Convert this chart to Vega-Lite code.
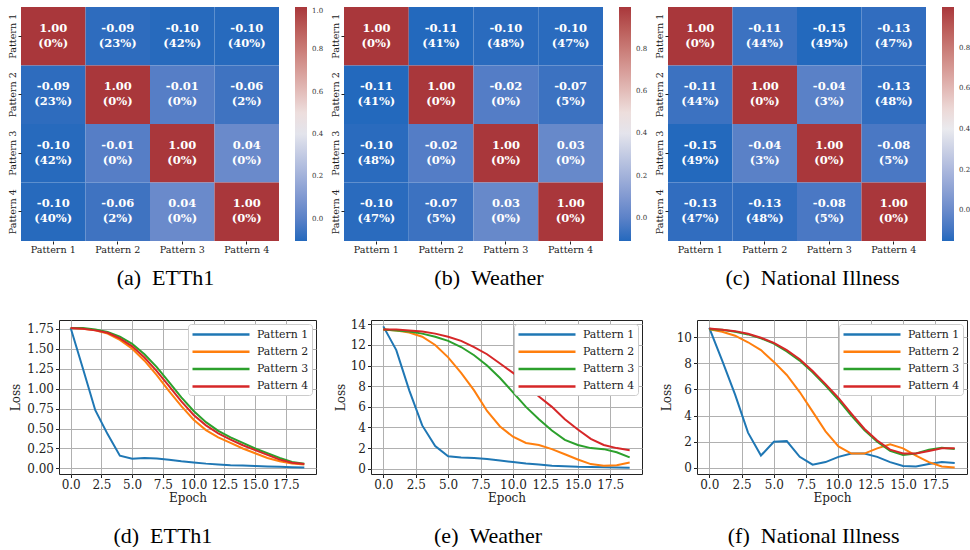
{
  "$schema": "https://vega.github.io/schema/vega-lite/v6.json",
  "padding": {"left": 6, "top": 7, "right": 0, "bottom": 0},
  "background": "white",
  "bounds": "flush",
  "spacing": 313,
  "resolve": {"scale": {"color": "independent"}, "legend": {"color": "independent"}},
  "config": {
    "view": {"stroke": null},
    "font": "DejaVu Serif"
  },
  "datasets": {
    "hm": [
      {"ds":"ETTh1","r":"Pattern 1","c":"Pattern 1","v":1.00,"t":"1.00","p":"(0%)"},
      {"ds":"ETTh1","r":"Pattern 1","c":"Pattern 2","v":-0.09,"t":"-0.09","p":"(23%)"},
      {"ds":"ETTh1","r":"Pattern 1","c":"Pattern 3","v":-0.10,"t":"-0.10","p":"(42%)"},
      {"ds":"ETTh1","r":"Pattern 1","c":"Pattern 4","v":-0.10,"t":"-0.10","p":"(40%)"},
      {"ds":"ETTh1","r":"Pattern 2","c":"Pattern 1","v":-0.09,"t":"-0.09","p":"(23%)"},
      {"ds":"ETTh1","r":"Pattern 2","c":"Pattern 2","v":1.00,"t":"1.00","p":"(0%)"},
      {"ds":"ETTh1","r":"Pattern 2","c":"Pattern 3","v":-0.01,"t":"-0.01","p":"(0%)"},
      {"ds":"ETTh1","r":"Pattern 2","c":"Pattern 4","v":-0.06,"t":"-0.06","p":"(2%)"},
      {"ds":"ETTh1","r":"Pattern 3","c":"Pattern 1","v":-0.10,"t":"-0.10","p":"(42%)"},
      {"ds":"ETTh1","r":"Pattern 3","c":"Pattern 2","v":-0.01,"t":"-0.01","p":"(0%)"},
      {"ds":"ETTh1","r":"Pattern 3","c":"Pattern 3","v":1.00,"t":"1.00","p":"(0%)"},
      {"ds":"ETTh1","r":"Pattern 3","c":"Pattern 4","v":0.04,"t":"0.04","p":"(0%)"},
      {"ds":"ETTh1","r":"Pattern 4","c":"Pattern 1","v":-0.10,"t":"-0.10","p":"(40%)"},
      {"ds":"ETTh1","r":"Pattern 4","c":"Pattern 2","v":-0.06,"t":"-0.06","p":"(2%)"},
      {"ds":"ETTh1","r":"Pattern 4","c":"Pattern 3","v":0.04,"t":"0.04","p":"(0%)"},
      {"ds":"ETTh1","r":"Pattern 4","c":"Pattern 4","v":1.00,"t":"1.00","p":"(0%)"},
      {"ds":"Weather","r":"Pattern 1","c":"Pattern 1","v":1.00,"t":"1.00","p":"(0%)"},
      {"ds":"Weather","r":"Pattern 1","c":"Pattern 2","v":-0.11,"t":"-0.11","p":"(41%)"},
      {"ds":"Weather","r":"Pattern 1","c":"Pattern 3","v":-0.10,"t":"-0.10","p":"(48%)"},
      {"ds":"Weather","r":"Pattern 1","c":"Pattern 4","v":-0.10,"t":"-0.10","p":"(47%)"},
      {"ds":"Weather","r":"Pattern 2","c":"Pattern 1","v":-0.11,"t":"-0.11","p":"(41%)"},
      {"ds":"Weather","r":"Pattern 2","c":"Pattern 2","v":1.00,"t":"1.00","p":"(0%)"},
      {"ds":"Weather","r":"Pattern 2","c":"Pattern 3","v":-0.02,"t":"-0.02","p":"(0%)"},
      {"ds":"Weather","r":"Pattern 2","c":"Pattern 4","v":-0.07,"t":"-0.07","p":"(5%)"},
      {"ds":"Weather","r":"Pattern 3","c":"Pattern 1","v":-0.10,"t":"-0.10","p":"(48%)"},
      {"ds":"Weather","r":"Pattern 3","c":"Pattern 2","v":-0.02,"t":"-0.02","p":"(0%)"},
      {"ds":"Weather","r":"Pattern 3","c":"Pattern 3","v":1.00,"t":"1.00","p":"(0%)"},
      {"ds":"Weather","r":"Pattern 3","c":"Pattern 4","v":0.03,"t":"0.03","p":"(0%)"},
      {"ds":"Weather","r":"Pattern 4","c":"Pattern 1","v":-0.10,"t":"-0.10","p":"(47%)"},
      {"ds":"Weather","r":"Pattern 4","c":"Pattern 2","v":-0.07,"t":"-0.07","p":"(5%)"},
      {"ds":"Weather","r":"Pattern 4","c":"Pattern 3","v":0.03,"t":"0.03","p":"(0%)"},
      {"ds":"Weather","r":"Pattern 4","c":"Pattern 4","v":1.00,"t":"1.00","p":"(0%)"},
      {"ds":"Illness","r":"Pattern 1","c":"Pattern 1","v":1.00,"t":"1.00","p":"(0%)"},
      {"ds":"Illness","r":"Pattern 1","c":"Pattern 2","v":-0.11,"t":"-0.11","p":"(44%)"},
      {"ds":"Illness","r":"Pattern 1","c":"Pattern 3","v":-0.15,"t":"-0.15","p":"(49%)"},
      {"ds":"Illness","r":"Pattern 1","c":"Pattern 4","v":-0.13,"t":"-0.13","p":"(47%)"},
      {"ds":"Illness","r":"Pattern 2","c":"Pattern 1","v":-0.11,"t":"-0.11","p":"(44%)"},
      {"ds":"Illness","r":"Pattern 2","c":"Pattern 2","v":1.00,"t":"1.00","p":"(0%)"},
      {"ds":"Illness","r":"Pattern 2","c":"Pattern 3","v":-0.04,"t":"-0.04","p":"(3%)"},
      {"ds":"Illness","r":"Pattern 2","c":"Pattern 4","v":-0.13,"t":"-0.13","p":"(48%)"},
      {"ds":"Illness","r":"Pattern 3","c":"Pattern 1","v":-0.15,"t":"-0.15","p":"(49%)"},
      {"ds":"Illness","r":"Pattern 3","c":"Pattern 2","v":-0.04,"t":"-0.04","p":"(3%)"},
      {"ds":"Illness","r":"Pattern 3","c":"Pattern 3","v":1.00,"t":"1.00","p":"(0%)"},
      {"ds":"Illness","r":"Pattern 3","c":"Pattern 4","v":-0.08,"t":"-0.08","p":"(5%)"},
      {"ds":"Illness","r":"Pattern 4","c":"Pattern 1","v":-0.13,"t":"-0.13","p":"(47%)"},
      {"ds":"Illness","r":"Pattern 4","c":"Pattern 2","v":-0.13,"t":"-0.13","p":"(48%)"},
      {"ds":"Illness","r":"Pattern 4","c":"Pattern 3","v":-0.08,"t":"-0.08","p":"(5%)"},
      {"ds":"Illness","r":"Pattern 4","c":"Pattern 4","v":1.00,"t":"1.00","p":"(0%)"}
    ],
    "loss": [
      {"ds":"ETTh1","pattern":"Pattern 1","epoch":0,"loss":1.76},{"ds":"ETTh1","pattern":"Pattern 1","epoch":1,"loss":1.25},{"ds":"ETTh1","pattern":"Pattern 1","epoch":2,"loss":0.73},{"ds":"ETTh1","pattern":"Pattern 1","epoch":3,"loss":0.43},{"ds":"ETTh1","pattern":"Pattern 1","epoch":4,"loss":0.16},{"ds":"ETTh1","pattern":"Pattern 1","epoch":5,"loss":0.12},{"ds":"ETTh1","pattern":"Pattern 1","epoch":6,"loss":0.13},{"ds":"ETTh1","pattern":"Pattern 1","epoch":7,"loss":0.125},{"ds":"ETTh1","pattern":"Pattern 1","epoch":8,"loss":0.11},{"ds":"ETTh1","pattern":"Pattern 1","epoch":9,"loss":0.09},{"ds":"ETTh1","pattern":"Pattern 1","epoch":10,"loss":0.075},{"ds":"ETTh1","pattern":"Pattern 1","epoch":11,"loss":0.06},{"ds":"ETTh1","pattern":"Pattern 1","epoch":12,"loss":0.05},{"ds":"ETTh1","pattern":"Pattern 1","epoch":13,"loss":0.04},{"ds":"ETTh1","pattern":"Pattern 1","epoch":14,"loss":0.035},{"ds":"ETTh1","pattern":"Pattern 1","epoch":15,"loss":0.03},{"ds":"ETTh1","pattern":"Pattern 1","epoch":16,"loss":0.025},{"ds":"ETTh1","pattern":"Pattern 1","epoch":17,"loss":0.02},{"ds":"ETTh1","pattern":"Pattern 1","epoch":18,"loss":0.015},{"ds":"ETTh1","pattern":"Pattern 1","epoch":19,"loss":0.01},
      {"ds":"ETTh1","pattern":"Pattern 2","epoch":0,"loss":1.76},{"ds":"ETTh1","pattern":"Pattern 2","epoch":1,"loss":1.75},{"ds":"ETTh1","pattern":"Pattern 2","epoch":2,"loss":1.73},{"ds":"ETTh1","pattern":"Pattern 2","epoch":3,"loss":1.69},{"ds":"ETTh1","pattern":"Pattern 2","epoch":4,"loss":1.61},{"ds":"ETTh1","pattern":"Pattern 2","epoch":5,"loss":1.50},{"ds":"ETTh1","pattern":"Pattern 2","epoch":6,"loss":1.35},{"ds":"ETTh1","pattern":"Pattern 2","epoch":7,"loss":1.17},{"ds":"ETTh1","pattern":"Pattern 2","epoch":8,"loss":0.97},{"ds":"ETTh1","pattern":"Pattern 2","epoch":9,"loss":0.78},{"ds":"ETTh1","pattern":"Pattern 2","epoch":10,"loss":0.61},{"ds":"ETTh1","pattern":"Pattern 2","epoch":11,"loss":0.48},{"ds":"ETTh1","pattern":"Pattern 2","epoch":12,"loss":0.39},{"ds":"ETTh1","pattern":"Pattern 2","epoch":13,"loss":0.32},{"ds":"ETTh1","pattern":"Pattern 2","epoch":14,"loss":0.25},{"ds":"ETTh1","pattern":"Pattern 2","epoch":15,"loss":0.19},{"ds":"ETTh1","pattern":"Pattern 2","epoch":16,"loss":0.13},{"ds":"ETTh1","pattern":"Pattern 2","epoch":17,"loss":0.09},{"ds":"ETTh1","pattern":"Pattern 2","epoch":18,"loss":0.06},{"ds":"ETTh1","pattern":"Pattern 2","epoch":19,"loss":0.05},
      {"ds":"ETTh1","pattern":"Pattern 3","epoch":0,"loss":1.76},{"ds":"ETTh1","pattern":"Pattern 3","epoch":1,"loss":1.76},{"ds":"ETTh1","pattern":"Pattern 3","epoch":2,"loss":1.74},{"ds":"ETTh1","pattern":"Pattern 3","epoch":3,"loss":1.71},{"ds":"ETTh1","pattern":"Pattern 3","epoch":4,"loss":1.65},{"ds":"ETTh1","pattern":"Pattern 3","epoch":5,"loss":1.56},{"ds":"ETTh1","pattern":"Pattern 3","epoch":6,"loss":1.43},{"ds":"ETTh1","pattern":"Pattern 3","epoch":7,"loss":1.27},{"ds":"ETTh1","pattern":"Pattern 3","epoch":8,"loss":1.08},{"ds":"ETTh1","pattern":"Pattern 3","epoch":9,"loss":0.89},{"ds":"ETTh1","pattern":"Pattern 3","epoch":10,"loss":0.72},{"ds":"ETTh1","pattern":"Pattern 3","epoch":11,"loss":0.58},{"ds":"ETTh1","pattern":"Pattern 3","epoch":12,"loss":0.47},{"ds":"ETTh1","pattern":"Pattern 3","epoch":13,"loss":0.39},{"ds":"ETTh1","pattern":"Pattern 3","epoch":14,"loss":0.32},{"ds":"ETTh1","pattern":"Pattern 3","epoch":15,"loss":0.25},{"ds":"ETTh1","pattern":"Pattern 3","epoch":16,"loss":0.19},{"ds":"ETTh1","pattern":"Pattern 3","epoch":17,"loss":0.13},{"ds":"ETTh1","pattern":"Pattern 3","epoch":18,"loss":0.08},{"ds":"ETTh1","pattern":"Pattern 3","epoch":19,"loss":0.06},
      {"ds":"ETTh1","pattern":"Pattern 4","epoch":0,"loss":1.76},{"ds":"ETTh1","pattern":"Pattern 4","epoch":1,"loss":1.75},{"ds":"ETTh1","pattern":"Pattern 4","epoch":2,"loss":1.73},{"ds":"ETTh1","pattern":"Pattern 4","epoch":3,"loss":1.70},{"ds":"ETTh1","pattern":"Pattern 4","epoch":4,"loss":1.63},{"ds":"ETTh1","pattern":"Pattern 4","epoch":5,"loss":1.53},{"ds":"ETTh1","pattern":"Pattern 4","epoch":6,"loss":1.39},{"ds":"ETTh1","pattern":"Pattern 4","epoch":7,"loss":1.22},{"ds":"ETTh1","pattern":"Pattern 4","epoch":8,"loss":1.03},{"ds":"ETTh1","pattern":"Pattern 4","epoch":9,"loss":0.84},{"ds":"ETTh1","pattern":"Pattern 4","epoch":10,"loss":0.67},{"ds":"ETTh1","pattern":"Pattern 4","epoch":11,"loss":0.54},{"ds":"ETTh1","pattern":"Pattern 4","epoch":12,"loss":0.44},{"ds":"ETTh1","pattern":"Pattern 4","epoch":13,"loss":0.36},{"ds":"ETTh1","pattern":"Pattern 4","epoch":14,"loss":0.29},{"ds":"ETTh1","pattern":"Pattern 4","epoch":15,"loss":0.23},{"ds":"ETTh1","pattern":"Pattern 4","epoch":16,"loss":0.17},{"ds":"ETTh1","pattern":"Pattern 4","epoch":17,"loss":0.11},{"ds":"ETTh1","pattern":"Pattern 4","epoch":18,"loss":0.07},{"ds":"ETTh1","pattern":"Pattern 4","epoch":19,"loss":0.055},
      {"ds":"Weather","pattern":"Pattern 1","epoch":0,"loss":13.8},{"ds":"Weather","pattern":"Pattern 1","epoch":1,"loss":11.5},{"ds":"Weather","pattern":"Pattern 1","epoch":2,"loss":7.6},{"ds":"Weather","pattern":"Pattern 1","epoch":3,"loss":4.2},{"ds":"Weather","pattern":"Pattern 1","epoch":4,"loss":2.2},{"ds":"Weather","pattern":"Pattern 1","epoch":5,"loss":1.2},{"ds":"Weather","pattern":"Pattern 1","epoch":6,"loss":1.1},{"ds":"Weather","pattern":"Pattern 1","epoch":7,"loss":1.05},{"ds":"Weather","pattern":"Pattern 1","epoch":8,"loss":0.95},{"ds":"Weather","pattern":"Pattern 1","epoch":9,"loss":0.8},{"ds":"Weather","pattern":"Pattern 1","epoch":10,"loss":0.65},{"ds":"Weather","pattern":"Pattern 1","epoch":11,"loss":0.5},{"ds":"Weather","pattern":"Pattern 1","epoch":12,"loss":0.4},{"ds":"Weather","pattern":"Pattern 1","epoch":13,"loss":0.3},{"ds":"Weather","pattern":"Pattern 1","epoch":14,"loss":0.25},{"ds":"Weather","pattern":"Pattern 1","epoch":15,"loss":0.2},{"ds":"Weather","pattern":"Pattern 1","epoch":16,"loss":0.18},{"ds":"Weather","pattern":"Pattern 1","epoch":17,"loss":0.15},{"ds":"Weather","pattern":"Pattern 1","epoch":18,"loss":0.12},{"ds":"Weather","pattern":"Pattern 1","epoch":19,"loss":0.1},
      {"ds":"Weather","pattern":"Pattern 2","epoch":0,"loss":13.5},{"ds":"Weather","pattern":"Pattern 2","epoch":1,"loss":13.4},{"ds":"Weather","pattern":"Pattern 2","epoch":2,"loss":13.2},{"ds":"Weather","pattern":"Pattern 2","epoch":3,"loss":12.8},{"ds":"Weather","pattern":"Pattern 2","epoch":4,"loss":12.0},{"ds":"Weather","pattern":"Pattern 2","epoch":5,"loss":10.8},{"ds":"Weather","pattern":"Pattern 2","epoch":6,"loss":9.3},{"ds":"Weather","pattern":"Pattern 2","epoch":7,"loss":7.6},{"ds":"Weather","pattern":"Pattern 2","epoch":8,"loss":5.6},{"ds":"Weather","pattern":"Pattern 2","epoch":9,"loss":4.1},{"ds":"Weather","pattern":"Pattern 2","epoch":10,"loss":3.1},{"ds":"Weather","pattern":"Pattern 2","epoch":11,"loss":2.5},{"ds":"Weather","pattern":"Pattern 2","epoch":12,"loss":2.3},{"ds":"Weather","pattern":"Pattern 2","epoch":13,"loss":1.9},{"ds":"Weather","pattern":"Pattern 2","epoch":14,"loss":1.4},{"ds":"Weather","pattern":"Pattern 2","epoch":15,"loss":0.9},{"ds":"Weather","pattern":"Pattern 2","epoch":16,"loss":0.45},{"ds":"Weather","pattern":"Pattern 2","epoch":17,"loss":0.3},{"ds":"Weather","pattern":"Pattern 2","epoch":18,"loss":0.35},{"ds":"Weather","pattern":"Pattern 2","epoch":19,"loss":0.6},
      {"ds":"Weather","pattern":"Pattern 3","epoch":0,"loss":13.5},{"ds":"Weather","pattern":"Pattern 3","epoch":1,"loss":13.4},{"ds":"Weather","pattern":"Pattern 3","epoch":2,"loss":13.3},{"ds":"Weather","pattern":"Pattern 3","epoch":3,"loss":13.1},{"ds":"Weather","pattern":"Pattern 3","epoch":4,"loss":12.8},{"ds":"Weather","pattern":"Pattern 3","epoch":5,"loss":12.4},{"ds":"Weather","pattern":"Pattern 3","epoch":6,"loss":11.8},{"ds":"Weather","pattern":"Pattern 3","epoch":7,"loss":11.0},{"ds":"Weather","pattern":"Pattern 3","epoch":8,"loss":10.0},{"ds":"Weather","pattern":"Pattern 3","epoch":9,"loss":8.8},{"ds":"Weather","pattern":"Pattern 3","epoch":10,"loss":7.4},{"ds":"Weather","pattern":"Pattern 3","epoch":11,"loss":6.0},{"ds":"Weather","pattern":"Pattern 3","epoch":12,"loss":4.8},{"ds":"Weather","pattern":"Pattern 3","epoch":13,"loss":3.7},{"ds":"Weather","pattern":"Pattern 3","epoch":14,"loss":2.8},{"ds":"Weather","pattern":"Pattern 3","epoch":15,"loss":2.3},{"ds":"Weather","pattern":"Pattern 3","epoch":16,"loss":2.0},{"ds":"Weather","pattern":"Pattern 3","epoch":17,"loss":1.9},{"ds":"Weather","pattern":"Pattern 3","epoch":18,"loss":1.6},{"ds":"Weather","pattern":"Pattern 3","epoch":19,"loss":1.1},
      {"ds":"Weather","pattern":"Pattern 4","epoch":0,"loss":13.5},{"ds":"Weather","pattern":"Pattern 4","epoch":1,"loss":13.5},{"ds":"Weather","pattern":"Pattern 4","epoch":2,"loss":13.4},{"ds":"Weather","pattern":"Pattern 4","epoch":3,"loss":13.3},{"ds":"Weather","pattern":"Pattern 4","epoch":4,"loss":13.1},{"ds":"Weather","pattern":"Pattern 4","epoch":5,"loss":12.8},{"ds":"Weather","pattern":"Pattern 4","epoch":6,"loss":12.4},{"ds":"Weather","pattern":"Pattern 4","epoch":7,"loss":11.8},{"ds":"Weather","pattern":"Pattern 4","epoch":8,"loss":11.1},{"ds":"Weather","pattern":"Pattern 4","epoch":9,"loss":10.2},{"ds":"Weather","pattern":"Pattern 4","epoch":10,"loss":9.3},{"ds":"Weather","pattern":"Pattern 4","epoch":11,"loss":8.2},{"ds":"Weather","pattern":"Pattern 4","epoch":12,"loss":7.0},{"ds":"Weather","pattern":"Pattern 4","epoch":13,"loss":6.0},{"ds":"Weather","pattern":"Pattern 4","epoch":14,"loss":4.8},{"ds":"Weather","pattern":"Pattern 4","epoch":15,"loss":3.8},{"ds":"Weather","pattern":"Pattern 4","epoch":16,"loss":2.9},{"ds":"Weather","pattern":"Pattern 4","epoch":17,"loss":2.3},{"ds":"Weather","pattern":"Pattern 4","epoch":18,"loss":2.0},{"ds":"Weather","pattern":"Pattern 4","epoch":19,"loss":1.8},
      {"ds":"Illness","pattern":"Pattern 1","epoch":0,"loss":10.7},{"ds":"Illness","pattern":"Pattern 1","epoch":1,"loss":8.2},{"ds":"Illness","pattern":"Pattern 1","epoch":2,"loss":5.6},{"ds":"Illness","pattern":"Pattern 1","epoch":3,"loss":2.7},{"ds":"Illness","pattern":"Pattern 1","epoch":4,"loss":0.95},{"ds":"Illness","pattern":"Pattern 1","epoch":5,"loss":2.0},{"ds":"Illness","pattern":"Pattern 1","epoch":6,"loss":2.05},{"ds":"Illness","pattern":"Pattern 1","epoch":7,"loss":0.85},{"ds":"Illness","pattern":"Pattern 1","epoch":8,"loss":0.25},{"ds":"Illness","pattern":"Pattern 1","epoch":9,"loss":0.45},{"ds":"Illness","pattern":"Pattern 1","epoch":10,"loss":0.85},{"ds":"Illness","pattern":"Pattern 1","epoch":11,"loss":1.1},{"ds":"Illness","pattern":"Pattern 1","epoch":12,"loss":1.1},{"ds":"Illness","pattern":"Pattern 1","epoch":13,"loss":0.85},{"ds":"Illness","pattern":"Pattern 1","epoch":14,"loss":0.45},{"ds":"Illness","pattern":"Pattern 1","epoch":15,"loss":0.15},{"ds":"Illness","pattern":"Pattern 1","epoch":16,"loss":0.12},{"ds":"Illness","pattern":"Pattern 1","epoch":17,"loss":0.3},{"ds":"Illness","pattern":"Pattern 1","epoch":18,"loss":0.45},{"ds":"Illness","pattern":"Pattern 1","epoch":19,"loss":0.38},
      {"ds":"Illness","pattern":"Pattern 2","epoch":0,"loss":10.6},{"ds":"Illness","pattern":"Pattern 2","epoch":1,"loss":10.4},{"ds":"Illness","pattern":"Pattern 2","epoch":2,"loss":10.1},{"ds":"Illness","pattern":"Pattern 2","epoch":3,"loss":9.6},{"ds":"Illness","pattern":"Pattern 2","epoch":4,"loss":9.0},{"ds":"Illness","pattern":"Pattern 2","epoch":5,"loss":8.1},{"ds":"Illness","pattern":"Pattern 2","epoch":6,"loss":7.1},{"ds":"Illness","pattern":"Pattern 2","epoch":7,"loss":5.8},{"ds":"Illness","pattern":"Pattern 2","epoch":8,"loss":4.3},{"ds":"Illness","pattern":"Pattern 2","epoch":9,"loss":2.8},{"ds":"Illness","pattern":"Pattern 2","epoch":10,"loss":1.65},{"ds":"Illness","pattern":"Pattern 2","epoch":11,"loss":1.1},{"ds":"Illness","pattern":"Pattern 2","epoch":12,"loss":1.1},{"ds":"Illness","pattern":"Pattern 2","epoch":13,"loss":1.5},{"ds":"Illness","pattern":"Pattern 2","epoch":14,"loss":1.8},{"ds":"Illness","pattern":"Pattern 2","epoch":15,"loss":1.5},{"ds":"Illness","pattern":"Pattern 2","epoch":16,"loss":0.95},{"ds":"Illness","pattern":"Pattern 2","epoch":17,"loss":0.45},{"ds":"Illness","pattern":"Pattern 2","epoch":18,"loss":0.12},{"ds":"Illness","pattern":"Pattern 2","epoch":19,"loss":0.03},
      {"ds":"Illness","pattern":"Pattern 3","epoch":0,"loss":10.6},{"ds":"Illness","pattern":"Pattern 3","epoch":1,"loss":10.55},{"ds":"Illness","pattern":"Pattern 3","epoch":2,"loss":10.4},{"ds":"Illness","pattern":"Pattern 3","epoch":3,"loss":10.2},{"ds":"Illness","pattern":"Pattern 3","epoch":4,"loss":9.9},{"ds":"Illness","pattern":"Pattern 3","epoch":5,"loss":9.5},{"ds":"Illness","pattern":"Pattern 3","epoch":6,"loss":8.9},{"ds":"Illness","pattern":"Pattern 3","epoch":7,"loss":8.2},{"ds":"Illness","pattern":"Pattern 3","epoch":8,"loss":7.3},{"ds":"Illness","pattern":"Pattern 3","epoch":9,"loss":6.3},{"ds":"Illness","pattern":"Pattern 3","epoch":10,"loss":5.2},{"ds":"Illness","pattern":"Pattern 3","epoch":11,"loss":4.0},{"ds":"Illness","pattern":"Pattern 3","epoch":12,"loss":2.9},{"ds":"Illness","pattern":"Pattern 3","epoch":13,"loss":2.0},{"ds":"Illness","pattern":"Pattern 3","epoch":14,"loss":1.3},{"ds":"Illness","pattern":"Pattern 3","epoch":15,"loss":1.0},{"ds":"Illness","pattern":"Pattern 3","epoch":16,"loss":1.1},{"ds":"Illness","pattern":"Pattern 3","epoch":17,"loss":1.4},{"ds":"Illness","pattern":"Pattern 3","epoch":18,"loss":1.55},{"ds":"Illness","pattern":"Pattern 3","epoch":19,"loss":1.45},
      {"ds":"Illness","pattern":"Pattern 4","epoch":0,"loss":10.65},{"ds":"Illness","pattern":"Pattern 4","epoch":1,"loss":10.55},{"ds":"Illness","pattern":"Pattern 4","epoch":2,"loss":10.45},{"ds":"Illness","pattern":"Pattern 4","epoch":3,"loss":10.25},{"ds":"Illness","pattern":"Pattern 4","epoch":4,"loss":9.95},{"ds":"Illness","pattern":"Pattern 4","epoch":5,"loss":9.55},{"ds":"Illness","pattern":"Pattern 4","epoch":6,"loss":9.0},{"ds":"Illness","pattern":"Pattern 4","epoch":7,"loss":8.3},{"ds":"Illness","pattern":"Pattern 4","epoch":8,"loss":7.4},{"ds":"Illness","pattern":"Pattern 4","epoch":9,"loss":6.4},{"ds":"Illness","pattern":"Pattern 4","epoch":10,"loss":5.35},{"ds":"Illness","pattern":"Pattern 4","epoch":11,"loss":4.15},{"ds":"Illness","pattern":"Pattern 4","epoch":12,"loss":3.0},{"ds":"Illness","pattern":"Pattern 4","epoch":13,"loss":2.1},{"ds":"Illness","pattern":"Pattern 4","epoch":14,"loss":1.4},{"ds":"Illness","pattern":"Pattern 4","epoch":15,"loss":1.1},{"ds":"Illness","pattern":"Pattern 4","epoch":16,"loss":1.1},{"ds":"Illness","pattern":"Pattern 4","epoch":17,"loss":1.3},{"ds":"Illness","pattern":"Pattern 4","epoch":18,"loss":1.5},{"ds":"Illness","pattern":"Pattern 4","epoch":19,"loss":1.5}
    ]
  },
  "vconcat": [
    {
      "spacing": 5,
      "resolve": {"scale": {"color": "independent"}, "legend": {"color": "independent"}},
      "hconcat": [
        {
          "width": 258, "height": 234,
          "data": {"name": "hm"},
          "transform": [{"filter": "datum.ds === 'ETTh1'"}],
          "title": {"text": "(a)\u2002ETTh1", "orient": "bottom", "anchor": "middle", "frame": "bounds", "font": "Liberation Serif", "fontSize": 22, "fontWeight": "normal", "color": "#000000", "offset": 14},
          "encoding": {
            "x": {"field": "c", "type": "nominal", "scale": {"paddingInner": 0, "paddingOuter": 0}, "axis": {"title": null, "domain": false, "tickSize": 3, "tickColor": "#222", "labelFont": "DejaVu Serif", "labelFontSize": 9.6, "labelColor": "#222", "labelAngle": 0, "labelPadding": 0}},
            "y": {"field": "r", "type": "nominal", "scale": {"paddingInner": 0, "paddingOuter": 0}, "axis": {"title": null, "domain": false, "minExtent": 0, "tickSize": 3, "tickColor": "#222", "labelFont": "DejaVu Serif", "labelFontSize": 9.6, "labelColor": "#222", "labelAngle": 270, "labelAlign": "center", "labelBaseline": "bottom", "labelPadding": 1}}
          },
          "layer": [
            {"mark": "rect", "encoding": {"color": {"field": "v", "type": "quantitative", "scale": {"domain": [-0.105, 0.4475, 1.0], "range": ["#2369bd", "#f2f0f0", "#a9373b"], "interpolate": "lab"}, "legend": {"orient": "right", "type": "gradient", "direction": "vertical", "gradientLength": 234, "gradientThickness": 12, "offset": 16, "padding": 0, "title": null, "values": [0, 0.2, 0.4, 0.6, 0.8, 1.0], "format": ".1f", "labelFont": "DejaVu Serif", "labelFontSize": 7, "labelColor": "#333", "labelOffset": 5, "labelOverlap": false, "gradientStrokeWidth": 0}}}},
            {"mark": {"type": "text", "dy": -7.5, "font": "DejaVu Serif", "fontWeight": "bold", "fontSize": 11.5, "fill": "#ffffff"}, "encoding": {"text": {"field": "t", "type": "nominal"}}},
            {"mark": {"type": "text", "dy": 7.5, "font": "DejaVu Serif", "fontWeight": "bold", "fontSize": 11.5, "fill": "#ffffff"}, "encoding": {"text": {"field": "p", "type": "nominal"}}}
          ]
        },
        {
          "width": 259, "height": 234,
          "data": {"name": "hm"},
          "transform": [{"filter": "datum.ds === 'Weather'"}],
          "title": {"text": "(b)\u2002Weather", "orient": "bottom", "anchor": "middle", "frame": "bounds", "font": "Liberation Serif", "fontSize": 22, "fontWeight": "normal", "color": "#000000", "offset": 14},
          "encoding": {
            "x": {"field": "c", "type": "nominal", "scale": {"paddingInner": 0, "paddingOuter": 0}, "axis": {"title": null, "domain": false, "tickSize": 3, "tickColor": "#222", "labelFont": "DejaVu Serif", "labelFontSize": 9.6, "labelColor": "#222", "labelAngle": 0, "labelPadding": 0}},
            "y": {"field": "r", "type": "nominal", "scale": {"paddingInner": 0, "paddingOuter": 0}, "axis": {"title": null, "domain": false, "minExtent": 0, "tickSize": 3, "tickColor": "#222", "labelFont": "DejaVu Serif", "labelFontSize": 9.6, "labelColor": "#222", "labelAngle": 270, "labelAlign": "center", "labelBaseline": "bottom", "labelPadding": 1}}
          },
          "layer": [
            {"mark": "rect", "encoding": {"color": {"field": "v", "type": "quantitative", "scale": {"domain": [-0.11, 0.445, 1.0], "range": ["#2369bd", "#f2f0f0", "#a9373b"], "interpolate": "lab"}, "legend": {"orient": "right", "type": "gradient", "direction": "vertical", "gradientLength": 234, "gradientThickness": 12, "offset": 16, "padding": 0, "title": null, "values": [0, 0.2, 0.4, 0.6, 0.8], "format": ".1f", "labelFont": "DejaVu Serif", "labelFontSize": 7, "labelColor": "#333", "labelOffset": 5, "labelOverlap": false, "gradientStrokeWidth": 0}}}},
            {"mark": {"type": "text", "dy": -7.5, "font": "DejaVu Serif", "fontWeight": "bold", "fontSize": 11.5, "fill": "#ffffff"}, "encoding": {"text": {"field": "t", "type": "nominal"}}},
            {"mark": {"type": "text", "dy": 7.5, "font": "DejaVu Serif", "fontWeight": "bold", "fontSize": 11.5, "fill": "#ffffff"}, "encoding": {"text": {"field": "p", "type": "nominal"}}}
          ]
        },
        {
          "width": 258, "height": 234,
          "data": {"name": "hm"},
          "transform": [{"filter": "datum.ds === 'Illness'"}],
          "title": {"text": "(c)\u2002National Illness", "orient": "bottom", "anchor": "middle", "frame": "bounds", "font": "Liberation Serif", "fontSize": 22, "fontWeight": "normal", "color": "#000000", "offset": 14},
          "encoding": {
            "x": {"field": "c", "type": "nominal", "scale": {"paddingInner": 0, "paddingOuter": 0}, "axis": {"title": null, "domain": false, "tickSize": 3, "tickColor": "#222", "labelFont": "DejaVu Serif", "labelFontSize": 9.6, "labelColor": "#222", "labelAngle": 0, "labelPadding": 0}},
            "y": {"field": "r", "type": "nominal", "scale": {"paddingInner": 0, "paddingOuter": 0}, "axis": {"title": null, "domain": false, "minExtent": 0, "tickSize": 3, "tickColor": "#222", "labelFont": "DejaVu Serif", "labelFontSize": 9.6, "labelColor": "#222", "labelAngle": 270, "labelAlign": "center", "labelBaseline": "bottom", "labelPadding": 1}}
          },
          "layer": [
            {"mark": "rect", "encoding": {"color": {"field": "v", "type": "quantitative", "scale": {"domain": [-0.15, 0.425, 1.0], "range": ["#2369bd", "#f2f0f0", "#a9373b"], "interpolate": "lab"}, "legend": {"orient": "right", "type": "gradient", "direction": "vertical", "gradientLength": 234, "gradientThickness": 12, "offset": 16, "padding": 0, "title": null, "values": [0, 0.2, 0.4, 0.6, 0.8], "format": ".1f", "labelFont": "DejaVu Serif", "labelFontSize": 7, "labelColor": "#333", "labelOffset": 5, "labelOverlap": false, "gradientStrokeWidth": 0}}}},
            {"mark": {"type": "text", "dy": -7.5, "font": "DejaVu Serif", "fontWeight": "bold", "fontSize": 11.5, "fill": "#ffffff"}, "encoding": {"text": {"field": "t", "type": "nominal"}}},
            {"mark": {"type": "text", "dy": 7.5, "font": "DejaVu Serif", "fontWeight": "bold", "fontSize": 11.5, "fill": "#ffffff"}, "encoding": {"text": {"field": "p", "type": "nominal"}}}
          ]
        }
      ]
    },
    {
      "spacing": -13,
      "resolve": {"scale": {"color": "independent"}, "legend": {"color": "independent"}},
      "hconcat": [
        {
          "width": 1, "height": 1,
          "data": {"values": [{"s": 0}]},
          "mark": {"type": "point", "opacity": 0, "size": 1}
        },
        {
          "spacing": 16,
          "resolve": {"scale": {"color": "independent"}, "legend": {"color": "independent"}},
          "hconcat": [
            {
              "width": 257, "height": 154,
              "view": {"stroke": "#222", "strokeWidth": 1},
              "data": {"name": "loss"},
              "transform": [{"filter": "datum.ds === 'ETTh1'"}],
              "title": {"text": "(d)\u2002ETTh1", "orient": "bottom", "anchor": "middle", "frame": "bounds", "font": "Liberation Serif", "fontSize": 22, "fontWeight": "normal", "color": "#000000", "offset": 22},
              "mark": {"type": "line", "strokeWidth": 2},
              "encoding": {
                "x": {"field": "epoch", "type": "quantitative", "scale": {"domain": [-0.95, 19.95], "nice": false, "zero": false}, "axis": {"title": "Epoch", "values": [0, 2.5, 5, 7.5, 10, 12.5, 15, 17.5], "format": ".1f", "grid": true, "gridColor": "#b0b0b0", "gridWidth": 1, "domain": false, "tickSize": 3.5, "tickColor": "#222", "labelFont": "DejaVu Serif", "labelFontSize": 12, "labelColor": "#222", "labelOverlap": false, "labelFlush": false, "labelPadding": 2, "titleFont": "DejaVu Serif", "titleFontSize": 12, "titleFontWeight": "normal", "titleColor": "#222", "titlePadding": 2}},
                "y": {"field": "loss", "type": "quantitative", "scale": {"domain": [-0.07, 1.86], "nice": false, "zero": false}, "axis": {"title": "Loss", "values": [0, 0.25, 0.5, 0.75, 1.0, 1.25, 1.5, 1.75], "format": ".2f", "grid": true, "gridColor": "#b0b0b0", "gridWidth": 1, "domain": false, "minExtent": 0, "tickSize": 3.5, "tickColor": "#222", "labelFont": "DejaVu Serif", "labelFontSize": 12, "labelColor": "#222", "labelOverlap": false, "labelPadding": 2, "titleFont": "DejaVu Serif", "titleFontSize": 12, "titleFontWeight": "normal", "titleColor": "#222", "titlePadding": 4}},
                "color": {"field": "pattern", "type": "nominal", "scale": {"domain": ["Pattern 1", "Pattern 2", "Pattern 3", "Pattern 4"], "range": ["#1f77b4", "#ff7f0e", "#2ca02c", "#d62728"]}, "legend": {"orient": "top-right", "offset": 4, "title": null, "symbolType": "M-1,0H8.5", "symbolSize": 144, "symbolStrokeWidth": 2.5, "labelFont": "DejaVu Serif", "labelFontSize": 10.9, "labelColor": "#222", "fillColor": "#ffffff", "strokeColor": "#cccccc", "cornerRadius": 3, "padding": 3, "rowPadding": 4.3, "labelOffset": 51}}
              }
            },
            {
              "width": 271, "height": 154,
              "view": {"stroke": "#222", "strokeWidth": 1},
              "data": {"name": "loss"},
              "transform": [{"filter": "datum.ds === 'Weather'"}],
              "title": {"text": "(e)\u2002Weather", "orient": "bottom", "anchor": "middle", "frame": "bounds", "font": "Liberation Serif", "fontSize": 22, "fontWeight": "normal", "color": "#000000", "offset": 22},
              "mark": {"type": "line", "strokeWidth": 2},
              "encoding": {
                "x": {"field": "epoch", "type": "quantitative", "scale": {"domain": [-0.95, 19.95], "nice": false, "zero": false}, "axis": {"title": "Epoch", "values": [0, 2.5, 5, 7.5, 10, 12.5, 15, 17.5], "format": ".1f", "grid": true, "gridColor": "#b0b0b0", "gridWidth": 1, "domain": false, "tickSize": 3.5, "tickColor": "#222", "labelFont": "DejaVu Serif", "labelFontSize": 12, "labelColor": "#222", "labelOverlap": false, "labelFlush": false, "labelPadding": 2, "titleFont": "DejaVu Serif", "titleFontSize": 12, "titleFontWeight": "normal", "titleColor": "#222", "titlePadding": 2}},
                "y": {"field": "loss", "type": "quantitative", "scale": {"domain": [-0.51, 14.42], "nice": false, "zero": false}, "axis": {"title": "Loss", "values": [0, 2, 4, 6, 8, 10, 12, 14], "format": "d", "grid": true, "gridColor": "#b0b0b0", "gridWidth": 1, "domain": false, "minExtent": 0, "tickSize": 3.5, "tickColor": "#222", "labelFont": "DejaVu Serif", "labelFontSize": 12, "labelColor": "#222", "labelOverlap": false, "labelPadding": 2, "titleFont": "DejaVu Serif", "titleFontSize": 12, "titleFontWeight": "normal", "titleColor": "#222", "titlePadding": 3}},
                "color": {"field": "pattern", "type": "nominal", "scale": {"domain": ["Pattern 1", "Pattern 2", "Pattern 3", "Pattern 4"], "range": ["#1f77b4", "#ff7f0e", "#2ca02c", "#d62728"]}, "legend": {"orient": "top-right", "offset": 4, "title": null, "symbolType": "M-1,0H8.5", "symbolSize": 144, "symbolStrokeWidth": 2.5, "labelFont": "DejaVu Serif", "labelFontSize": 10.9, "labelColor": "#222", "fillColor": "#ffffff", "strokeColor": "#cccccc", "cornerRadius": 3, "padding": 3, "rowPadding": 4.3, "labelOffset": 51}}
              }
            },
            {
              "width": 270, "height": 154,
              "view": {"stroke": "#222", "strokeWidth": 1},
              "data": {"name": "loss"},
              "transform": [{"filter": "datum.ds === 'Illness'"}],
              "title": {"text": "(f)\u2002National Illness", "orient": "bottom", "anchor": "middle", "frame": "bounds", "font": "Liberation Serif", "fontSize": 22, "fontWeight": "normal", "color": "#000000", "offset": 22},
              "mark": {"type": "line", "strokeWidth": 2},
              "encoding": {
                "x": {"field": "epoch", "type": "quantitative", "scale": {"domain": [-0.95, 19.95], "nice": false, "zero": false}, "axis": {"title": "Epoch", "values": [0, 2.5, 5, 7.5, 10, 12.5, 15, 17.5], "format": ".1f", "grid": true, "gridColor": "#b0b0b0", "gridWidth": 1, "domain": false, "tickSize": 3.5, "tickColor": "#222", "labelFont": "DejaVu Serif", "labelFontSize": 12, "labelColor": "#222", "labelOverlap": false, "labelFlush": false, "labelPadding": 2, "titleFont": "DejaVu Serif", "titleFontSize": 12, "titleFontWeight": "normal", "titleColor": "#222", "titlePadding": 2}},
                "y": {"field": "loss", "type": "quantitative", "scale": {"domain": [-0.46, 11.3], "nice": false, "zero": false}, "axis": {"title": "Loss", "values": [0, 2, 4, 6, 8, 10], "format": "d", "grid": true, "gridColor": "#b0b0b0", "gridWidth": 1, "domain": false, "minExtent": 0, "tickSize": 3.5, "tickColor": "#222", "labelFont": "DejaVu Serif", "labelFontSize": 12, "labelColor": "#222", "labelOverlap": false, "labelPadding": 2, "titleFont": "DejaVu Serif", "titleFontSize": 12, "titleFontWeight": "normal", "titleColor": "#222", "titlePadding": 3}},
                "color": {"field": "pattern", "type": "nominal", "scale": {"domain": ["Pattern 1", "Pattern 2", "Pattern 3", "Pattern 4"], "range": ["#1f77b4", "#ff7f0e", "#2ca02c", "#d62728"]}, "legend": {"orient": "top-right", "offset": 4, "title": null, "symbolType": "M-1,0H8.5", "symbolSize": 144, "symbolStrokeWidth": 2.5, "labelFont": "DejaVu Serif", "labelFontSize": 10.9, "labelColor": "#222", "fillColor": "#ffffff", "strokeColor": "#cccccc", "cornerRadius": 3, "padding": 3, "rowPadding": 4.3, "labelOffset": 51}}
              }
            }
          ]
        }
      ]
    }
  ]
}
